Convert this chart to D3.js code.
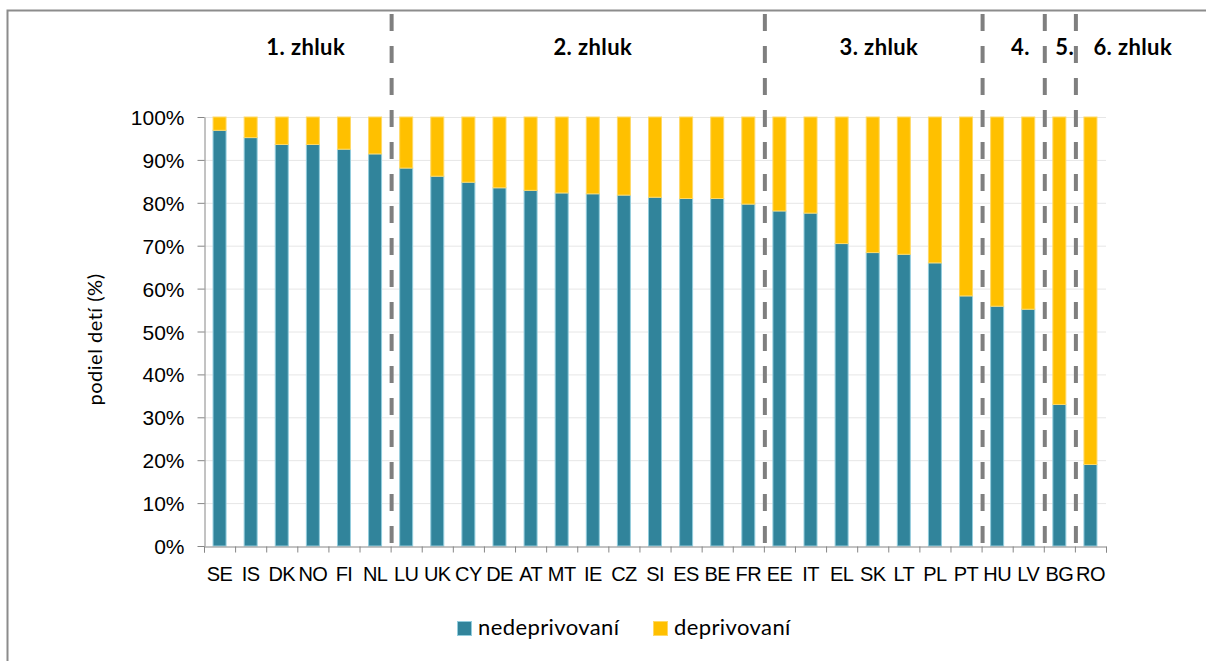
<!DOCTYPE html>
<meta charset="utf-8">

<style>
body { margin: 0; background: #fff; }
svg { font-family: Lato, "Open Sans", sans-serif; }
.grid line { stroke: #e6e6e6; stroke-width: 1px; }
.axis path, .axis line { stroke: #868686; }
.axis text { fill: #000; }
.sep { stroke: #7f7f7f; stroke-width: 4px; stroke-dasharray: 17 15; }
.cluster { font-weight: bold; font-size: 22px; letter-spacing: 0.4px; fill: #000; }
</style>

<body>
<svg width=1206 height=661></svg>
</body>

<script src="https://d3js.org/d3.v7.min.js"></script>
<script>
// krajiny zoradene podla podielu nedeprivovanych deti
const countries = ["SE","IS","DK","NO","FI","NL","LU","UK","CY","DE","AT","MT","IE","CZ","SI",
  "ES","BE","FR","EE","IT","EL","SK","LT","PL","PT","HU","LV","BG","RO"]
const nedeprivovani = [96.9,95.2,93.6,93.6,92.5,91.4,88.1,86.2,84.8,83.5,82.9,82.3,82.1,81.8,81.3,
  81.0,81.0,79.7,78.1,77.6,70.5,68.4,68.0,66.0,58.3,55.9,55.2,33.0,19.0]
const deprivovani = [3.1,4.8,6.4,6.4,7.5,8.6,11.9,13.8,15.2,16.5,17.1,17.7,17.9,18.2,18.7,
  19.0,19.0,20.3,21.9,22.4,29.5,31.6,32.0,34.0,41.7,44.1,44.8,67.0,81.0]
const yTicks = [0,10,20,30,40,50,60,70,80,90,100]

// zhluky: index poslednej krajiny + pozicia popisu (v jednotkach kategorii)
const clusterNames = ["1. zhluk","2. zhluk","3. zhluk","4.","5.","6. zhluk"]
const clusterEnds = [6,18,25,27,28,29]
const clusterLabelAt = [3.27,12.5,21.7,26.25,27.67,29.86]

const seriesNames = ["nedeprivovaní","deprivovaní"]
const colors = ["#31849b","#ffc000"]
const borders = ["#93cddd","#ffd966"]

const root = d3.select("svg")
const x0 = 204, x1 = 1106, yTop = 117, yBottom = 546

// ramcek grafu (prava a dolna strana su mimo obrazka)
root.append("rect")
  .attr("x", 7.5).attr("y", 10.5)
  .attr("width", 1300).attr("height", 800)
  .attr("fill", "none").attr("stroke", "#8c8c8c").attr("stroke-width", 2)

const x = d3.scaleBand()
  .domain(countries)
  .range([x0, x1])
  .paddingInner(0.55)
  .paddingOuter(0.275)
const xi = d3.scaleLinear().domain([0, countries.length]).range([x0, x1])
const y = d3.scaleLinear().domain([0, 100]).range([yBottom, yTop])

root.append("g")
  .attr("class", "grid")
  .selectAll("line")
  .data(yTicks.filter(d => d > 0))
  .enter().append("line")
    .attr("x1", x0).attr("x2", x1)
    .attr("y1", d => y(d) + 0.5).attr("y2", d => y(d) + 0.5)

const rows = countries.map((c, i) => ({c, a: nedeprivovani[i], b: deprivovani[i]}))
const stacked = d3.stack().keys(["a","b"])(rows)

root.append("g")
  .selectAll("g")
  .data(stacked)
  .enter().append("g")
    .attr("fill", (d, i) => colors[i])
    .attr("stroke", (d, i) => borders[i])
  .selectAll("rect")
  .data(d => d)
  .enter().append("rect")
    .attr("x", d => x(d.data.c) + 0.5)
    .attr("width", x.bandwidth() - 1)
    .attr("y", d => y(d[1]))
    .attr("height", d => y(d[0]) - y(d[1]))
    .attr("stroke-width", 1)

// osi
const yAxis = root.append("g")
  .attr("class", "axis")
  .attr("transform", `translate(${x0 + 0.5},0)`)
  .call(d3.axisLeft(y).tickValues(yTicks).tickFormat(d => d + "%").tickSize(7).tickPadding(13).tickSizeOuter(0))
yAxis.selectAll("text").style("font-size", "21px").attr("dy", "0.36em")

root.append("g")
  .attr("class", "axis")
  .attr("transform", `translate(0,${yBottom + 0.5})`)
  .call(d3.axisBottom(xi).ticks(countries.length).tickFormat("").tickSize(6).tickSizeOuter(6))

const xAxis = root.append("g")
  .attr("class", "axis")
  .attr("transform", `translate(0,${yBottom})`)
  .call(d3.axisBottom(x).tickSize(0).tickPadding(21))
xAxis.select(".domain").remove()
xAxis.selectAll("text").style("font-size", "20px").style("letter-spacing", "-0.6px")

root.append("text")
  .attr("transform", `translate(102,${(yTop + yBottom) / 2 + 8}) rotate(-90)`)
  .attr("text-anchor", "middle")
  .style("font-size", "20px")
  .style("letter-spacing", "0.5px")
  .text("podiel detí (%)")

// prerusovane ciary medzi zhlukmi
root.append("g")
  .selectAll("line")
  .data(clusterEnds.slice(0, -1))
  .enter().append("line")
    .attr("class", "sep")
    .attr("x1", d => xi(d) + 1).attr("x2", d => xi(d) + 1)
    .attr("y1", 14).attr("y2", yBottom - 2)

root.append("g")
  .selectAll("text")
  .data(clusterNames)
  .enter().append("text")
    .attr("class", "cluster")
    .attr("x", (d, i) => xi(clusterLabelAt[i]))
    .attr("y", 55)
    .attr("text-anchor", "middle")
    .text(d => d)

// legenda
const legend = root.append("g")
  .attr("transform", "translate(457,621)")
  .selectAll("g")
  .data(seriesNames)
  .enter().append("g")
    .attr("transform", (d, i) => `translate(${i * 196},0)`)
legend.append("rect")
  .attr("x", 0.5).attr("y", 0.5)
  .attr("width", 14).attr("height", 14)
  .attr("fill", (d, i) => colors[i])
  .attr("stroke", (d, i) => borders[i])
legend.append("text")
  .attr("x", 21).attr("y", 14)
  .style("font-size", "22px")
  .style("letter-spacing", "0.4px")
  .text(d => d)
</script>
